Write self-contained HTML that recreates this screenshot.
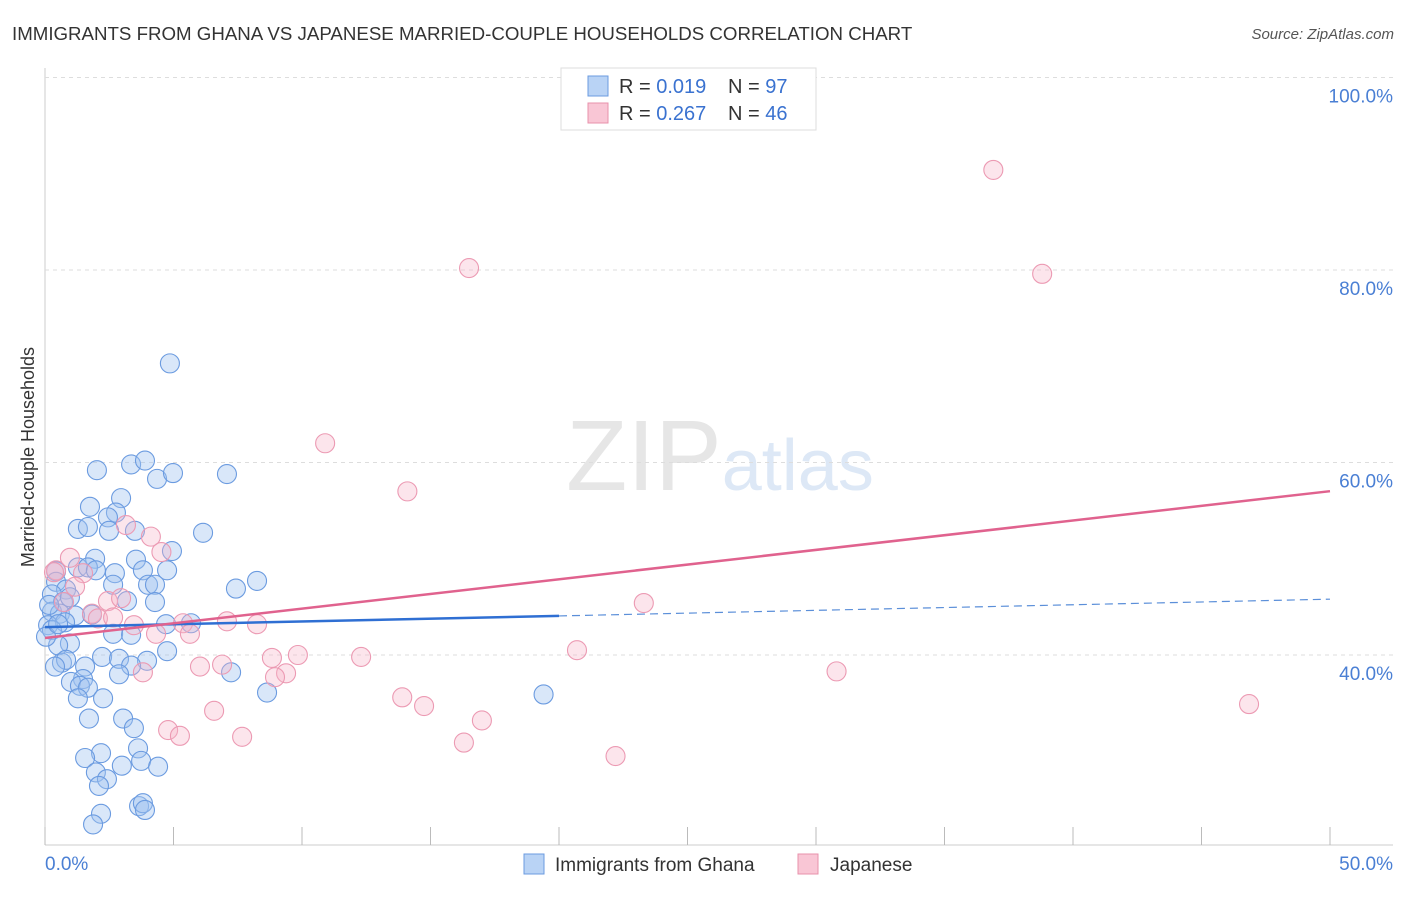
<!DOCTYPE html>
<html><head><meta charset="utf-8"><style>
body{margin:0;background:#fff;}
svg text{font-family:"Liberation Sans",sans-serif;}
</style></head><body>
<svg id="chart" width="1406" height="892" xmlns="http://www.w3.org/2000/svg">
<text x="12" y="40" font-size="18.7" fill="#333">IMMIGRANTS FROM GHANA VS JAPANESE MARRIED-COUPLE HOUSEHOLDS CORRELATION CHART</text>
<text x="1394" y="39" font-size="15" fill="#555" font-style="italic" text-anchor="end">Source: ZipAtlas.com</text>
<text x="720" y="490" font-size="100" text-anchor="middle" fill="#e6e6e6" font-family="Liberation Serif">ZIP<tspan fill="#dde8f6" font-family="Liberation Sans" font-size="72">atlas</tspan></text>
<text transform="translate(34,457) rotate(-90)" font-size="18" fill="#333" text-anchor="middle">Married-couple Households</text>
<g id="grid"></g><g id="pts"></g><g id="lines"></g>
<g>
<rect x="561" y="68" width="255" height="62" fill="#fff" stroke="#ddd"/>
<rect x="588" y="76" width="20" height="20" fill="#b9d3f5" stroke="#6b9be0"/>
<text x="619" y="93" font-size="20" fill="#333">R = <tspan fill="#3a72d0">0.019</tspan></text>
<text x="728" y="93" font-size="20" fill="#333">N = <tspan fill="#3a72d0">97</tspan></text>
<rect x="588" y="103" width="20" height="20" fill="#f9c6d5" stroke="#e891ab"/>
<text x="619" y="120" font-size="20" fill="#333">R = <tspan fill="#3a72d0">0.267</tspan></text>
<text x="728" y="120" font-size="20" fill="#333">N = <tspan fill="#3a72d0">46</tspan></text>
</g>
<g>
<rect x="524" y="854" width="20" height="20" fill="#b9d3f5" stroke="#6b9be0"/>
<text x="555" y="871" font-size="19" fill="#333">Immigrants from Ghana</text>
<rect x="798" y="854" width="20" height="20" fill="#f9c6d5" stroke="#e891ab"/>
<text x="830" y="871" font-size="19" fill="#333">Japanese</text>
</g>
</svg>
<script>
const yTicks=[40,60,80,100];
const yTickLabels=["40.0%","60.0%","80.0%","100.0%"];
const ghanaX=[4.86,2.02,3.35,3.89,4.36,4.98,7.08,2.96,1.75,2.76,2.45,1.28,1.67,2.49,3.5,6.15,4.94,3.54,1.95,1.28,0.43,1.67,1.98,2.72,3.81,4.75,0.43,0.82,2.65,4.01,4.28,7.43,8.25,0.27,0.7,0.97,3.19,4.28,0.27,0.58,1.17,1.83,0.12,0.78,0.27,4.71,5.68,2.65,3.35,0.97,0.51,4.75,2.22,2.88,3.97,0.66,0.82,0.39,1.56,3.35,7.24,2.88,1.48,1.01,1.36,1.67,8.64,19.4,1.28,2.26,1.71,3.04,3.46,2.18,1.56,3.62,3.74,2.99,4.4,1.98,2.41,2.1,3.66,3.81,3.89,2.18,1.87,0.04,0.51,0.16];
const ghanaY=[70.3,59.2,59.8,60.2,58.3,58.9,58.8,56.3,55.4,54.8,54.3,53.1,53.3,52.9,52.9,52.7,50.8,49.9,50.0,49.1,48.7,49.1,48.8,48.5,48.8,48.8,47.6,46.8,47.3,47.3,47.3,46.9,47.7,46.3,45.5,46.0,45.6,45.5,44.5,44.3,44.1,44.2,43.1,43.4,42.6,43.2,43.3,42.2,42.1,41.2,41.0,40.4,39.8,39.6,39.4,39.2,39.5,38.8,38.8,38.9,38.2,38.0,37.5,37.2,36.8,36.6,36.1,35.9,35.5,35.5,33.4,33.4,32.4,29.8,29.3,30.3,29.0,28.5,28.4,27.8,27.1,26.4,24.3,24.6,23.9,23.5,22.4,41.9,43.2,45.2];
const japX=[36.9,16.5,38.8,10.9,14.1,3.15,4.12,4.53,0.97,0.43,1.48,1.17,2.45,2.96,1.83,23.3,2.06,2.65,7.08,8.25,5.37,3.46,4.32,5.64,20.7,9.84,8.83,12.3,6.89,6.03,3.81,9.38,8.95,30.8,13.9,14.75,6.58,46.85,17.0,4.79,5.25,7.67,16.3,22.2,0.35,0.74];
const japY=[90.4,80.2,79.6,62.0,57.0,53.5,52.3,50.7,50.1,48.8,48.5,47.1,45.6,45.9,44.3,45.4,43.8,43.9,43.5,43.2,43.3,43.1,42.2,42.2,40.5,40.0,39.7,39.8,39.0,38.8,38.2,38.1,37.7,38.3,35.6,34.7,34.2,34.9,33.2,32.2,31.6,31.5,30.9,29.5,48.6,45.5];
const ghanaTrend=[42.9,0.058];
const japTrend=[41.77,0.305];
const NS="http://www.w3.org/2000/svg";
const X=v=>45+v*25.7, Y=v=>655-(v-40)*9.625;
function mk(t,a,p){const e=document.createElementNS(NS,t);for(const k in a)e.setAttribute(k,a[k]);p.appendChild(e);return e;}
const grid=document.getElementById('grid');
mk('line',{x1:45,y1:68,x2:45,y2:845,stroke:'#ccc'},grid);
mk('line',{x1:45,y1:845,x2:1393,y2:845,stroke:'#ccc'},grid);
yTicks.forEach((t,i)=>{
 const g=mk('line',{x1:45,y1:Y(t),x2:1393,y2:Y(t),stroke:'#ddd','stroke-dasharray':'4,4'},grid);
 
 
 const tx=mk('text',{x:1393,y:Y(t)+25,'font-size':19,fill:'#4a7fd4','text-anchor':'end'},grid);
 tx.textContent=yTickLabels[i];
 
 
});
for(let i=0;i<=10;i++){const l=mk('line',{x1:X(i*5),y1:827,x2:X(i*5),y2:845,stroke:'#bbb'},grid);
 
 }
let t0=mk('text',{x:45,y:870,'font-size':19,fill:'#4a7fd4'},grid);t0.textContent='0.0%';


let t1=mk('text',{x:1393,y:870,'font-size':19,fill:'#4a7fd4','text-anchor':'end'},grid);t1.textContent='50.0%';


const pts=document.getElementById('pts');
ghanaX.forEach((x,i)=>{const c=mk('circle',{cx:X(x),cy:Y(ghanaY[i]),r:9.5,fill:'rgba(160,195,240,0.4)',stroke:'#6b9be0','stroke-width':1.1},pts);
 
 });
japX.forEach((x,i)=>{const c=mk('circle',{cx:X(x),cy:Y(japY[i]),r:9.5,fill:'rgba(247,180,200,0.35)',stroke:'#ec9ab3','stroke-width':1.1},pts);
 
 });
const lines=document.getElementById('lines');
const f=(tr,x)=>tr[0]+tr[1]*x;
let b1=mk('line',{x1:X(0),y1:Y(f(ghanaTrend,0)),x2:X(20),y2:Y(f(ghanaTrend,20)),stroke:'#2f6fd3','stroke-width':2.5},lines);


let b2=mk('line',{x1:X(20),y1:Y(f(ghanaTrend,20)),x2:X(50),y2:Y(f(ghanaTrend,50)),stroke:'#5b8fd9','stroke-width':1.2,'stroke-dasharray':'8,5'},lines);


let p1=mk('line',{x1:X(0),y1:Y(f(japTrend,0)),x2:X(50),y2:Y(f(japTrend,50)),stroke:'#e0628e','stroke-width':2.5},lines);


</script>
</body></html>
